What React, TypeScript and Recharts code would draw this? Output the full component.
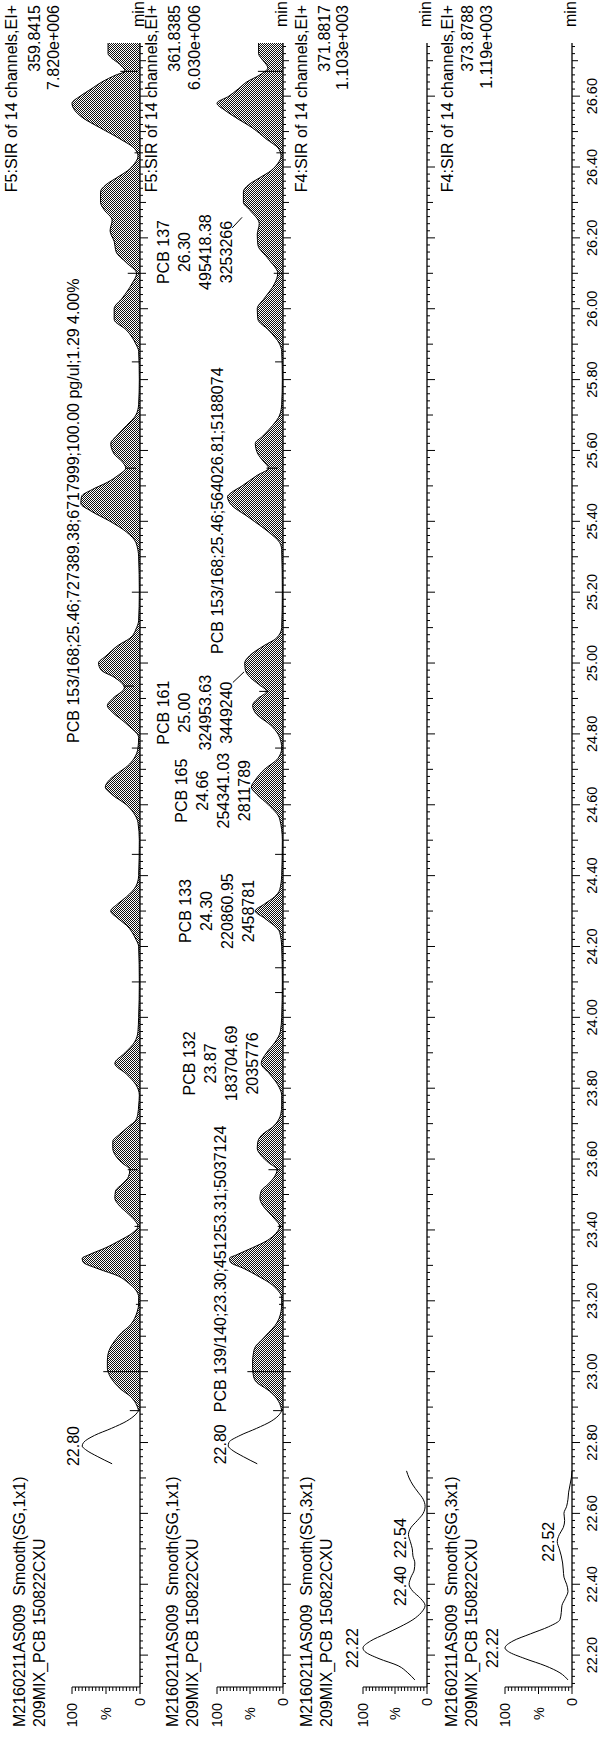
import { ComposedChart, Area, Line, XAxis, YAxis, ReferenceLine, ReferenceDot } from 'recharts'

const FONT = '"Liberation Sans", Arial, Helvetica, sans-serif'

// retention time window (min)
const T_START = 22.11
const T_END = 26.75

const timeTicks = Array.from({ length: 232 }, (_, i) => Math.round((22.12 + i * 0.02) * 100) / 100)
const timeLabels = [
  '22.20', '22.40', '22.60', '22.80', '23.00', '23.20', '23.40', '23.60', '23.80', '24.00', '24.20', '24.40',
  '24.60', '24.80', '25.00', '25.20', '25.40', '25.60', '25.80', '26.00', '26.20', '26.40', '26.60',
]
const pctTicks = [0, 5, 10, 15, 20, 25, 30, 35, 40, 45, 50, 55, 60, 65, 70, 75, 80, 85, 90, 95, 100]
const pctLabels: Record<number, string> = { 100: '100', 50: '%', 0: '0' }

const sampleHeaders = [
  ['M2160211AS009  Smooth(SG,1x1)', '209MIX_PCB 150822CXU'],
  ['M2160211AS009  Smooth(SG,1x1)', '209MIX_PCB 150822CXU'],
  ['M2160211AS009  Smooth(SG,3x1)', '209MIX_PCB 150822CXU'],
  ['M2160211AS009  Smooth(SG,3x1)', '209MIX_PCB 150822CXU'],
]
const channelInfo = [
  ['F5:SIR of 14 channels,EI+', '359.8415', '7.820e+006'],
  ['F5:SIR of 14 channels,EI+', '361.8385', '6.030e+006'],
  ['F4:SIR of 14 channels,EI+', '371.8817', '1.103e+003'],
  ['F4:SIR of 14 channels,EI+', '373.8788', '1.119e+003'],
]

// F5 359.8415
const p1PreTime = [22.74, 22.76, 22.78, 22.79, 22.8, 22.82, 22.84, 22.86, 22.88, 22.89]
const p1PreValue = [41, 62, 80, 85, 83, 67, 42, 20, 6, 2]
const p1Time = [
  22.89, 22.91, 22.93, 22.95, 22.97, 22.99, 23.01, 23.03, 23.05, 23.07, 23.09, 23.11, 23.13, 23.15, 23.17, 23.19,
  23.21, 23.23, 23.25, 23.27, 23.29, 23.31, 23.32, 23.33, 23.35, 23.37, 23.39, 23.41, 23.43, 23.45, 23.47, 23.49,
  23.51, 23.53, 23.55, 23.57, 23.59, 23.61, 23.63, 23.65, 23.67, 23.69, 23.71, 23.73, 23.75, 23.78, 23.81, 23.84,
  23.87, 23.9, 23.93, 23.96, 24.0, 24.1, 24.2, 24.22, 24.26, 24.28, 24.3, 24.32, 24.34, 24.37, 24.4, 24.5,
  24.55, 24.57, 24.6, 24.63, 24.65, 24.67, 24.69, 24.71, 24.73, 24.76, 24.79, 24.82, 24.84, 24.86, 24.88, 24.9,
  24.93, 24.96, 24.98, 25.0, 25.02, 25.05, 25.07, 25.1, 25.12, 25.2, 25.3, 25.34, 25.37, 25.4, 25.43, 25.45,
  25.47, 25.49, 25.51, 25.53, 25.55, 25.57, 25.59, 25.62, 25.64, 25.67, 25.7, 25.73, 25.8, 25.88, 25.9, 25.94,
  25.97, 26.0, 26.03, 26.07, 26.1, 26.13, 26.16, 26.19, 26.22, 26.25, 26.28, 26.3, 26.33, 26.35, 26.37, 26.39,
  26.41, 26.43, 26.45, 26.48, 26.51, 26.54, 26.56, 26.58, 26.6, 26.62, 26.64, 26.66, 26.67, 26.69, 26.71, 26.72,
  26.75,
]
const p1Value = [
  2, 6, 14, 28, 38, 45, 48, 48, 47, 43, 36, 27, 15, 8, 4, 2,
  2, 6, 17, 32, 61, 84, 85, 75, 50, 30, 12, 3, 9, 20, 31, 37,
  36, 26, 17, 15, 27, 36, 40, 40, 30, 18, 6, 3, 2, 1, 6, 20,
  37, 22, 8, 3, 2, 1, 2, 6, 20, 33, 43, 33, 20, 6, 2, 1,
  3, 7, 20, 42, 51, 45, 32, 18, 9, 3, 2, 15, 27, 40, 48, 40,
  23, 38, 57, 61, 50, 32, 15, 5, 2, 1, 2, 6, 20, 44, 73, 87,
  86, 70, 48, 32, 21, 27, 38, 43, 35, 20, 6, 2, 1, 2, 6, 20,
  38, 38, 26, 12, 5, 20, 35, 38, 44, 41, 53, 58, 58, 50, 34, 18,
  8, 3, 7, 30, 58, 85, 96, 100, 88, 72, 56, 35, 22, 30, 43, 47,
  47,
]

// F5 361.8385
const p2PreTime = [22.74, 22.76, 22.78, 22.79, 22.8, 22.82, 22.84, 22.86, 22.88, 22.89]
const p2PreValue = [39, 60, 78, 83, 82, 65, 40, 18, 5, 2]
const p2Time = [
  22.89, 22.91, 22.93, 22.95, 22.97, 22.99, 23.01, 23.03, 23.05, 23.07, 23.09, 23.11, 23.13, 23.15, 23.17, 23.19,
  23.21, 23.23, 23.25, 23.27, 23.29, 23.31, 23.32, 23.33, 23.35, 23.37, 23.39, 23.41, 23.43, 23.45, 23.47, 23.49,
  23.51, 23.53, 23.55, 23.57, 23.59, 23.61, 23.63, 23.65, 23.67, 23.69, 23.71, 23.73, 23.75, 23.78, 23.81, 23.84,
  23.87, 23.9, 23.93, 23.96, 24.0, 24.1, 24.2, 24.24, 24.28, 24.3, 24.32, 24.34, 24.36, 24.4, 24.5, 24.56,
  24.6, 24.63, 24.65, 24.67, 24.7, 24.73, 24.76, 24.79, 24.82, 24.86, 24.88, 24.9, 24.92, 24.94, 24.96, 24.98,
  25.0, 25.02, 25.05, 25.07, 25.1, 25.2, 25.32, 25.34, 25.37, 25.41, 25.45, 25.47, 25.48, 25.5, 25.53, 25.55,
  25.57, 25.59, 25.62, 25.64, 25.67, 25.7, 25.73, 25.8, 25.88, 25.9, 25.94, 25.97, 26.0, 26.03, 26.07, 26.1,
  26.14, 26.18, 26.21, 26.24, 26.28, 26.3, 26.33, 26.35, 26.37, 26.39, 26.41, 26.43, 26.45, 26.48, 26.51, 26.54,
  26.56, 26.58, 26.6, 26.62, 26.64, 26.66, 26.68, 26.7, 26.72, 26.75,
]
const p2Value = [
  2, 5, 12, 24, 40, 45, 46, 46, 45, 42, 32, 22, 12, 6, 3, 2,
  2, 8, 20, 38, 58, 80, 81, 70, 46, 24, 11, 5, 12, 22, 31, 35,
  33, 22, 13, 9, 22, 33, 39, 38, 31, 16, 7, 3, 2, 2, 8, 20,
  33, 25, 12, 4, 2, 1, 2, 5, 28, 42, 28, 13, 5, 2, 1, 5,
  22, 40, 48, 42, 28, 8, 2, 5, 16, 42, 46, 38, 25, 37, 50, 57,
  58, 51, 28, 10, 2, 1, 2, 5, 22, 51, 80, 84, 79, 62, 39, 22,
  30, 38, 42, 31, 16, 5, 2, 1, 2, 5, 22, 38, 39, 28, 13, 8,
  22, 38, 39, 36, 51, 60, 60, 52, 35, 18, 8, 3, 6, 26, 46, 72,
  88, 100, 82, 68, 55, 35, 23, 30, 37, 37,
]

// F4 371.8817
const p3Time = [
  22.13, 22.15, 22.17, 22.19, 22.21, 22.22, 22.24, 22.26, 22.28, 22.3, 22.32, 22.34, 22.36, 22.38, 22.4, 22.42,
  22.44, 22.46, 22.48, 22.5, 22.52, 22.54, 22.56, 22.58, 22.6, 22.62, 22.64, 22.66, 22.68, 22.7, 22.72,
]
const p3Value = [19, 30, 45, 75, 97, 100, 88, 65, 42, 22, 9, 3, 10, 22, 28, 25, 20, 19, 22, 23, 26, 29, 25, 15, 6, 3, 6, 14, 22, 28, 32]

// F4 373.8788
const p4Time = [
  22.13, 22.15, 22.17, 22.19, 22.21, 22.22, 22.24, 22.26, 22.28, 22.3, 22.32, 22.34, 22.36, 22.38, 22.4, 22.42,
  22.44, 22.46, 22.48, 22.5, 22.52, 22.54, 22.56, 22.58, 22.6, 22.62, 22.64, 22.66, 22.68, 22.7, 22.72,
]
const p4Value = [6, 18, 40, 70, 95, 100, 88, 62, 35, 18, 16, 15, 10, 6, 8, 12, 13, 14, 16, 19, 22, 19, 13, 11, 12, 8, 6, 5, 3, 1, 0]

// integration markers: [time, from %, to %]
const p1Markers = [
  [22.89, 0, 15], [23.0, 0, 54], [23.19, 0, 6], [23.41, 0, 8], [23.57, 3, 18], [24.1, 0, 12], [24.46, 0, 12],
  [24.76, 0, 12], [24.935, 9, 24], [25.2, 0, 12], [25.55, 6, 21], [25.85, 0, 12], [26.1, 0, 18], [26.44, 0, 8],
  [26.67, 3, 29],
]
const p2Markers = [
  [22.89, 0, 15], [23.0, 0, 54], [23.19, 0, 6], [23.21, 0, 6], [23.41, 0, 8], [23.57, 5, 22], [24.07, 0, 12],
  [24.14, 0, 12], [24.46, 0, 12], [24.76, 0, 12], [24.92, 22, 36], [25.2, 0, 12], [25.55, 8, 25], [25.85, 0, 12],
  [26.1, 0, 14], [26.44, 0, 10], [26.67, 0, 38],
]

// peak annotations: time, % where the last line sits, text lines
const p1Labels = [
  { t: 22.79, y: 90, lines: ['22.80'] },
  { t: 25.43, y: 90, lines: ['PCB 153/168;25.46;727389.38;6717999;100.00 pg/ul;1.29 4.00%'] },
]
const p2Labels = [
  { t: 22.795, y: 86, lines: ['22.80'] },
  { t: 23.29, y: 86, lines: ['PCB 139/140;23.30;451253.31;5037124'] },
  { t: 23.87, y: 38, lines: ['PCB 132', '23.87', '183704.69', '2035776'] },
  { t: 24.3, y: 44, lines: ['PCB 133', '24.30', '220860.95', '2458781'] },
  { t: 24.64, y: 50, lines: ['PCB 165', '24.66', '254341.03', '2811789'] },
  { t: 24.86, y: 77, lines: ['PCB 161', '25.00', '324953.63', '3449240'] },
  { t: 25.43, y: 91, lines: ['PCB 153/168;25.46;564026.81;5188074'] },
  { t: 26.16, y: 77, lines: ['PCB 137', '26.30', '495418.38', '3253266'] },
]
const p2Leaders = [
  [24.945, 76, 24.975, 59],
  [26.228, 77, 26.258, 62],
]
const p3Labels = [
  { t: 22.22, y: 108, lines: ['22.22'] },
  { t: 22.395, y: 33, lines: ['22.40'] },
  { t: 22.53, y: 33, lines: ['22.54'] },
]
const p4Labels = [
  { t: 22.22, y: 110, lines: ['22.22'] },
  { t: 22.52, y: 27, lines: ['22.52'] },
]

const filledRows = (preT: number[], preV: number[], t: number[], v: number[]) => [
  ...preT.map((x, i) => ({ t: x, pre: preV[i], main: null })),
  ...t.map((x, i) => ({ t: x, pre: null, main: v[i] })),
]
const lineRows = (t: number[], v: number[]) => t.map((x, i) => ({ t: x, v: v[i] }))

// layout in the unrotated (landscape) frame
const layouts = [
  { v100: 72, v0: 140, pad: 26, headY: [25, 45], infoY: [17, 40, 59] },
  { v100: 217, v0: 283, pad: 70, headY: [178, 198], infoY: [157, 180, 200] },
  { v100: 363, v0: 427, pad: 30, headY: [312, 332], infoY: [307, 330, 348] },
  { v100: 505, v0: 572, pad: 30, headY: [457, 477], infoY: [453, 473, 492] },
]

function TimeTick(props: any) {
  const { x, y, payload, showLabels } = props
  const k = Math.round(payload.value * 100)
  const len = k % 20 === 0 ? 8 : k % 10 === 0 ? 6 : 3
  const label = showLabels && k % 20 === 0 ? timeLabels[(k - 2220) / 20] : null
  return (
    <g>
      <line x1={x} y1={y} x2={x} y2={y + len} stroke="#000" strokeWidth={1} />
      {label && (
        <text x={x} y={y + 25} textAnchor="middle" fontSize={14.5} fontFamily={FONT} fill="#000">
          {label}
        </text>
      )}
    </g>
  )
}

function PctTick(props: any) {
  const { x, y, payload } = props
  const v = payload.value
  const len = v % 50 === 0 ? 7 : 4
  const label = pctLabels[v]
  const dx = v === 100 ? 16 : v === 0 ? 11 : 20
  return (
    <g>
      <line x1={x - len} y1={y} x2={x} y2={y} stroke="#000" strokeWidth={1} />
      {label && (
        <text x={x - dx} y={y + 5} textAnchor="end" fontSize={14.5} fontFamily={FONT} fill="#000">
          {label}
        </text>
      )}
    </g>
  )
}

const peakLabel = (lines: string[]) => (props: any) => {
  const vb = props.viewBox || { x: 0, y: 0, width: 0, height: 0 }
  const cx = vb.x + vb.width / 2
  const cy = vb.y + vb.height / 2
  return (
    <text textAnchor="middle" fontSize={16} fontFamily={FONT} fill="#000">
      {lines.map((s, i) => (
        <tspan key={i} x={cx} y={cy - (lines.length - 1 - i) * 21}>
          {s}
        </tspan>
      ))}
    </text>
  )
}

function Panel({ idx, rows, filled, markers, labels, leaders, showTimeLabels }: any) {
  const lay = layouts[idx]
  const plotH = lay.v0 - lay.v100
  const height = lay.pad + plotH + 32
  const pid = `dither${idx}`
  return (
    <div style={{ position: 'absolute', left: 0, top: lay.v100 - lay.pad }}>
      <ComposedChart width={1739} height={height} data={rows} margin={{ top: lay.pad, right: 43, bottom: 0, left: 12 }}>
        <defs>
          <pattern id={pid} width="2" height="2" patternUnits="userSpaceOnUse">
            <rect width="2" height="2" fill="#fff" />
            <rect width="1" height="1" fill="#111" />
            <rect x="1" y="1" width="1" height="1" fill="#111" />
          </pattern>
        </defs>
        <XAxis
          dataKey="t"
          type="number"
          domain={[T_START, T_END]}
          ticks={timeTicks}
          interval={0}
          tickLine={false}
          tickSize={0}
          tickMargin={0}
          height={32}
          axisLine={{ stroke: '#000', strokeWidth: 1.3 }}
          tick={<TimeTick showLabels={showTimeLabels} />}
        />
        <YAxis
          type="number"
          domain={[0, 100]}
          ticks={pctTicks}
          interval={0}
          width={40}
          tickLine={false}
          tickSize={0}
          tickMargin={0}
          axisLine={{ stroke: '#000', strokeWidth: 1 }}
          tick={<PctTick />}
        />
        {filled ? (
          <>
            <Area type="monotone" dataKey="pre" stroke="#000" strokeWidth={1} fill="none" dot={false} activeDot={false} isAnimationActive={false} />
            <Area type="monotone" dataKey="main" stroke="#000" strokeWidth={1} fill={`url(#${pid})`} fillOpacity={1} dot={false} activeDot={false} isAnimationActive={false} />
          </>
        ) : (
          <Line type="monotone" dataKey="v" stroke="#000" strokeWidth={1} dot={false} activeDot={false} isAnimationActive={false} />
        )}
        {(markers || []).map((m: number[], i: number) => (
          <ReferenceLine
            key={`m${i}`}
            segment={[{ x: m[0], y: m[1] }, { x: m[0], y: m[2] }]}
            stroke="#000"
            strokeWidth={1}
            ifOverflow="visible"
          />
        ))}
        {(leaders || []).map((l: number[], i: number) => (
          <ReferenceLine
            key={`l${i}`}
            segment={[{ x: l[0], y: l[1] }, { x: l[2], y: l[3] }]}
            stroke="#000"
            strokeWidth={1}
            ifOverflow="visible"
          />
        ))}
        {labels.map((lb: any, i: number) => (
          <ReferenceDot
            key={`p${i}`}
            x={lb.t}
            y={lb.y}
            r={1}
            fill="none"
            stroke="none"
            ifOverflow="visible"
            label={peakLabel(lb.lines)}
          />
        ))}
      </ComposedChart>
    </div>
  )
}

export default function App() {
  return (
    <div style={{ position: 'absolute', left: 0, top: 0, width: 605, height: 1739, overflow: 'hidden', background: '#fff' }}>
      <div
        style={{
          position: 'absolute',
          left: 0,
          top: 0,
          width: 1739,
          height: 605,
          transformOrigin: '0 0',
          transform: 'translateY(1739px) rotate(-90deg)',
          fontFamily: FONT,
        }}
      >
        <Panel idx={0} rows={filledRows(p1PreTime, p1PreValue, p1Time, p1Value)} filled markers={p1Markers} labels={p1Labels} />
        <Panel idx={1} rows={filledRows(p2PreTime, p2PreValue, p2Time, p2Value)} filled markers={p2Markers} labels={p2Labels} leaders={p2Leaders} />
        <Panel idx={2} rows={lineRows(p3Time, p3Value)} labels={p3Labels} />
        <Panel idx={3} rows={lineRows(p4Time, p4Value)} labels={p4Labels} showTimeLabels />
        <svg width={1739} height={605} style={{ position: 'absolute', left: 0, top: 0, pointerEvents: 'none' }}>
          {layouts.map((lay, i) => (
            <g key={i} fontFamily={FONT} fill="#000">
              {sampleHeaders[i].map((s, j) => (
                <text key={`h${j}`} x={12} y={lay.headY[j]} fontSize={16} style={{ whiteSpace: 'pre' }}>
                  {s}
                </text>
              ))}
              {channelInfo[i].map((s, j) => (
                <text key={`c${j}`} x={1734} y={lay.infoY[j]} fontSize={16} textAnchor="end">
                  {s}
                </text>
              ))}
              <text x={1712} y={lay.v0 + 4} fontSize={16}>
                min
              </text>
            </g>
          ))}
        </svg>
      </div>
    </div>
  )
}
